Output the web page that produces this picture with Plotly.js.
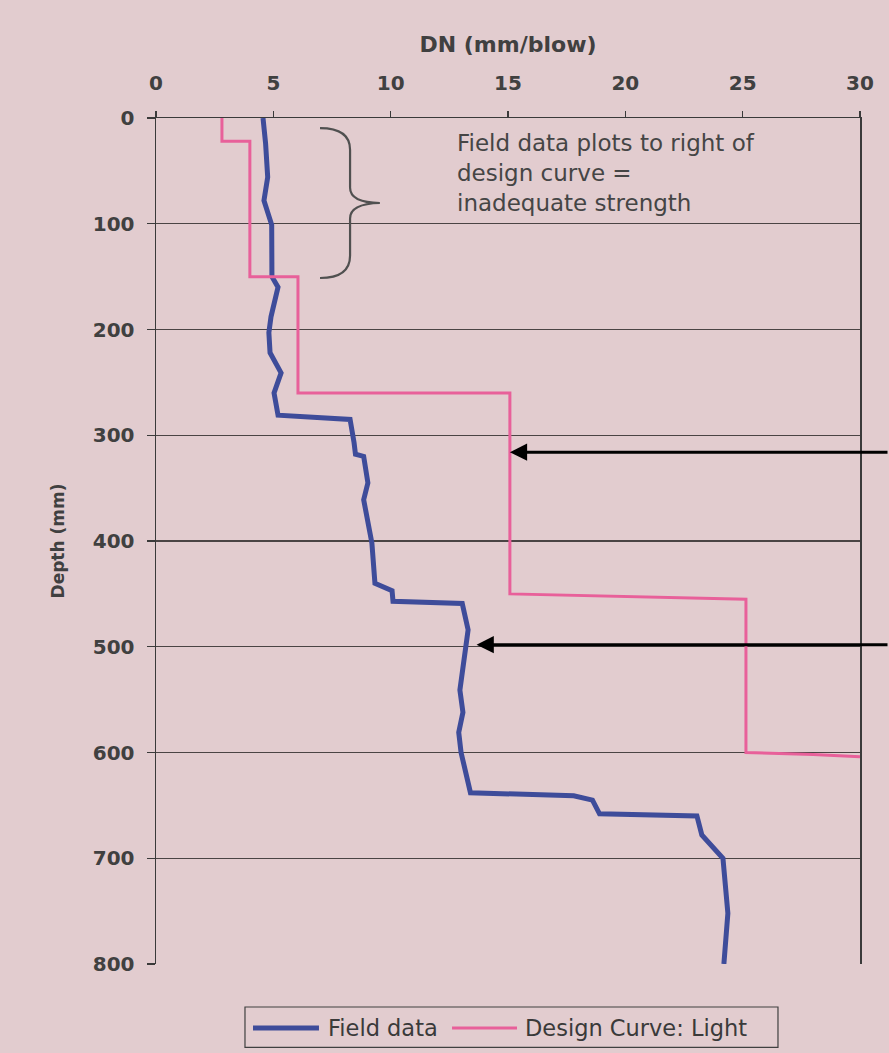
<!DOCTYPE html>
<html>
<head>
<meta charset="utf-8">
<script src="https://cdn.plot.ly/plotly-3.0.1.min.js"></script>
<style>
  html, body { margin: 0; padding: 0; background: #e2cccf; }
  #chart { width: 889px; height: 1053px; }
</style>
</head>
<body>
<div id="chart"></div>
<script>
// Field data: depth (mm) and DN (mm/blow)
const fieldDepth = [0, 24, 56, 78, 101, 150, 160, 188, 203, 222, 241, 260, 281, 285, 307, 318, 320, 345, 361, 402, 440, 447, 457, 459, 484, 541, 562, 581, 600, 620, 638, 641, 645, 658, 660, 678, 700, 752, 800];
const fieldDN = [4.56, 4.67, 4.76, 4.6, 4.93, 4.94, 5.2, 4.9, 4.81, 4.86, 5.33, 5.03, 5.2, 8.27, 8.44, 8.5, 8.85, 9.03, 8.85, 9.2, 9.33, 10.06, 10.1, 13.05, 13.3, 12.95, 13.08, 12.9, 13.0, 13.2, 13.4, 17.8, 18.6, 18.9, 23.05, 23.26, 24.16, 24.37, 24.2];

// Design curve: Light
const designDepth = [0, 22, 22, 150, 150, 260, 260, 450, 455, 600, 602, 604];
const designDN = [2.81, 2.81, 4.0, 4.0, 6.05, 6.05, 15.08, 15.08, 25.14, 25.14, 28.0, 30.0];

const xTicks = [0, 5, 10, 15, 20, 25, 30];
const yTicks = [0, 100, 200, 300, 400, 500, 600, 700, 800];

const seriesNames = ['Field data', 'Design Curve: Light'];
const noteText = 'Field data plots to right of<br>design curve =<br>inadequate strength';
const arrowTargets = [{x: 15.08, y: 316}, {x: 13.66, y: 498}];

const bg = '#e2cccf';
const blue = '#3e4c9a';
const pink = '#e8609a';
const txt = '#404040';

const traces = [
  {x: fieldDN, y: fieldDepth, name: seriesNames[0], mode: 'lines', type: 'scatter',
   line: {color: blue, width: 5}, showlegend: false},
  {x: designDN, y: designDepth, name: seriesNames[1], mode: 'lines', type: 'scatter',
   line: {color: pink, width: 3}, showlegend: false}
];

// legend geometry (paper coords)
const legY = -0.0757;
const shapes = [
  // curly brace
  {type: 'path', xref: 'x', yref: 'y',
   path: 'M 6.99,9.5 Q 8.27,9.5 8.27,30 L 8.27,66 Q 8.27,80 9.54,80.4 Q 8.27,81 8.27,95 L 8.27,130 Q 8.27,151.3 6.99,151.3',
   line: {color: '#505050', width: 2.2}},
  // legend box
  {type: 'rect', xref: 'paper', yref: 'paper', x0: 0.1264, x1: 0.8835, y0: -0.0508, y1: -0.0985,
   line: {color: '#404040', width: 1.2}, fillcolor: 'rgba(0,0,0,0)'},
  {type: 'line', xref: 'paper', yref: 'paper', x0: 0.1378, x1: 0.2315, y0: legY, y1: legY,
   line: {color: blue, width: 5}},
  {type: 'line', xref: 'paper', yref: 'paper', x0: 0.4205, x1: 0.5128, y0: legY, y1: legY,
   line: {color: pink, width: 3}}
];

const annotations = [
  {x: 12.75, y: 52, xref: 'x', yref: 'y', text: noteText, showarrow: false,
   xanchor: 'left', yanchor: 'middle', align: 'left',
   font: {family: 'DejaVu Sans', size: 23, color: '#454545'}},
  {xref: 'paper', yref: 'paper', x: 0.2415, y: legY, xanchor: 'left', yanchor: 'middle',
   text: seriesNames[0], showarrow: false,
   font: {family: 'DejaVu Sans', size: 22.5, color: '#3a3a3a'}},
  {xref: 'paper', yref: 'paper', x: 0.5213, y: legY, xanchor: 'left', yanchor: 'middle',
   text: seriesNames[1], showarrow: false,
   font: {family: 'DejaVu Sans', size: 22.5, color: '#3a3a3a'}}
];
arrowTargets.forEach(function (a) {
  annotations.push({
    x: a.x, y: a.y, xref: 'x', yref: 'y', text: '', showarrow: true,
    arrowhead: 2, arrowsize: 1.15, arrowwidth: 3, arrowcolor: '#000000',
    axref: 'pixel', ayref: 'pixel', ax: 430, ay: 0, standoff: 0, startstandoff: 0
  });
});

const layout = {
  width: 889, height: 1053,
  margin: {l: 156, r: 29, t: 118, b: 89},
  paper_bgcolor: bg, plot_bgcolor: bg,
  showlegend: false,
  font: {family: 'DejaVu Sans', color: txt},
  xaxis: {
    side: 'top', range: [0, 30], tickvals: xTicks, ticktext: xTicks.map(String),
    showgrid: false, zeroline: false,
    showline: true, linecolor: '#3a3a3a', linewidth: 1.5,
    ticks: 'outside', ticklen: 6, tickwidth: 1.2, tickcolor: '#3a3a3a',
    ticklabelstandoff: 13,
    tickfont: {family: 'DejaVu Sans', size: 20, color: txt, weight: 'bold'},
    title: {text: 'DN (mm/blow)', standoff: 12,
            font: {family: 'DejaVu Sans', size: 22, color: txt, weight: 'bold'}}
  },
  yaxis: {
    range: [800, 0], tickvals: yTicks, ticktext: yTicks.map(String),
    showgrid: true, gridcolor: '#4a4444', gridwidth: 1.2, zeroline: false,
    showline: true, linecolor: '#3a3a3a', linewidth: 1.5, mirror: true,
    ticks: 'outside', ticklen: 8, tickwidth: 1.2, tickcolor: '#3a3a3a',
    ticklabelstandoff: 8,
    tickfont: {family: 'DejaVu Sans', size: 20, color: txt, weight: 'bold'},
    title: {text: 'Depth (mm)', standoff: 24,
            font: {family: 'DejaVu Sans', size: 17, color: txt, weight: 'bold'}}
  },
  shapes: shapes,
  annotations: annotations
};

Plotly.newPlot('chart', traces, layout, {displayModeBar: false, staticPlot: true});
</script>
</body>
</html>
